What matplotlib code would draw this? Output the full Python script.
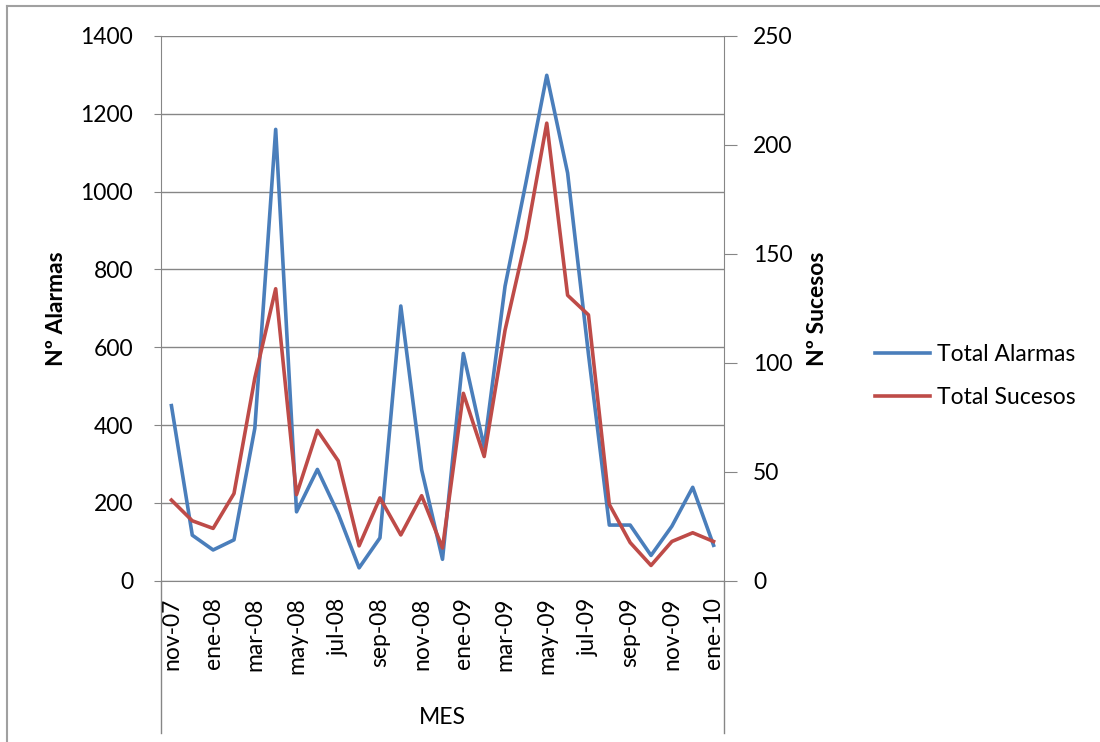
import matplotlib
matplotlib.use("Agg")
import matplotlib.pyplot as plt
from matplotlib.lines import Line2D

plt.rcParams['font.family'] = ['Lato', 'DejaVu Sans']

meses = ["nov-07", "dic-07", "ene-08", "feb-08", "mar-08", "abr-08", "may-08",
         "jun-08", "jul-08", "ago-08", "sep-08", "oct-08", "nov-08", "dic-08",
         "ene-09", "feb-09", "mar-09", "abr-09", "may-09", "jun-09", "jul-09",
         "ago-09", "sep-09", "oct-09", "nov-09", "dic-09", "ene-10"]
total_alarmas = [450, 117, 79, 105, 392, 1160, 177, 286, 172, 33, 110, 706, 285, 55,
                 584, 343, 757, 1023, 1299, 1048, 582, 143, 143, 65, 140, 240, 91]
total_sucesos = [37, 27.5, 24, 40, 93, 134, 39.5, 69, 55, 16, 38, 21, 39, 15,
                 86, 57, 115, 157, 210, 131, 122, 35, 17.5, 7, 18, 22, 18]

azul = "#4a7ebb"
rojo = "#be4b48"
gris = "#868686"
fs = 16.5

fig = plt.figure(figsize=(11, 7.42), dpi=100)
ax = fig.add_axes([161 / 1100, 1 - 580.7 / 742, (724 - 161) / 1100, (580.7 - 36) / 742])
ax2 = ax.twinx()

x = list(range(len(meses)))
l1, = ax.plot(x, total_alarmas, color=azul, lw=2.6, solid_joinstyle='round')
l2, = ax2.plot(x, total_sucesos, color=rojo, lw=2.6, solid_joinstyle='round')

ax.set_xlim(-0.5, len(meses) - 0.5)
ax.set_ylim(0, 1400)
ax2.set_ylim(0, 250)
ax.set_yticks(range(0, 1401, 200))
ax2.set_yticks(range(0, 251, 50))
ax.set_xticks(x[::2])
ax.set_xticklabels(meses[::2], rotation=90, fontsize=fs)

ax.grid(axis='y', color=gris, lw=1)
ax.set_axisbelow(True)
for a in (ax, ax2):
    a.spines['top'].set_visible(False)
    for s in ('left', 'right', 'bottom'):
        a.spines[s].set_color(gris)
ax.spines['right'].set_visible(False)
ax2.spines['left'].set_visible(False)
ax2.spines['bottom'].set_visible(False)

ax.tick_params(axis='y', length=5, color=gris, pad=15, labelsize=fs)
ax2.tick_params(axis='y', length=9, color=gris, pad=12, labelsize=fs)
ax.tick_params(axis='x', length=0, pad=12)

ax.set_ylabel("Nº Alarmas", fontsize=fs, fontweight='bold', labelpad=10)
ax2.set_ylabel("Nº Sucesos", fontsize=fs, fontweight='bold', labelpad=10)
ax.set_xlabel("MES", fontsize=fs, labelpad=24)

# lineas del eje de categorias
for xv in (0, 1):
    ax.plot([xv, xv], [0, -0.2795], transform=ax.transAxes, clip_on=False,
            color=gris, lw=1)

fig.legend([l1, l2], ["Total Alarmas", "Total Sucesos"], loc='center left',
           bbox_to_anchor=(875 / 1100, 1 - 376 / 742), frameon=False,
           fontsize=fs, handlelength=2.4, handletextpad=0.3, labelspacing=1.0,
           borderpad=0, borderaxespad=0)

# borde del grafico
bx = 7 / 1100
by = 1 - 6 / 742
fig.add_artist(Line2D([bx, bx], [0, by], color="#a0a0a0", lw=1.5))
fig.add_artist(Line2D([bx, 1], [by, by], color="#a0a0a0", lw=1.5))

fig.savefig("out.png", dpi=100)
